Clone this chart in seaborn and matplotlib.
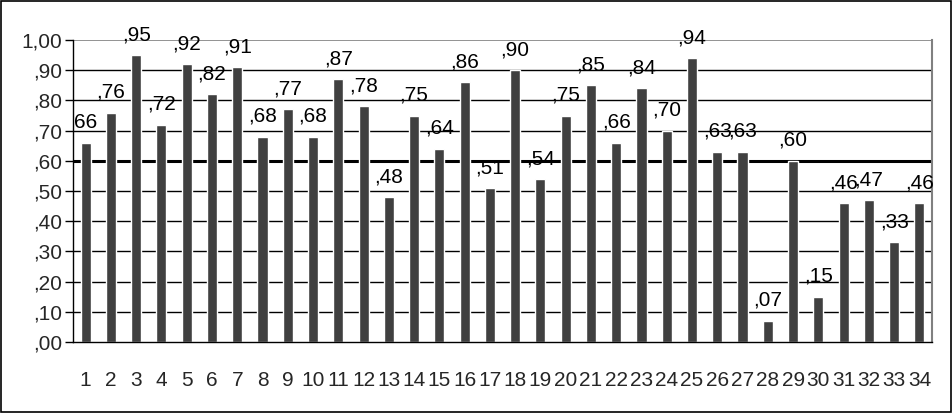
import numpy as np
import matplotlib
matplotlib.use("Agg")
import matplotlib.pyplot as plt
import pandas as pd
import seaborn as sns

# Data
items = [str(i) for i in range(1, 35)]
values = [0.66, 0.76, 0.95, 0.72, 0.92, 0.82, 0.91, 0.68, 0.77, 0.68,
          0.87, 0.78, 0.48, 0.75, 0.64, 0.86, 0.51, 0.90, 0.54, 0.75,
          0.85, 0.66, 0.84, 0.70, 0.94, 0.63, 0.63, 0.07, 0.60, 0.15,
          0.46, 0.47, 0.33, 0.46]
y_ticks = [0.0, 0.1, 0.2, 0.3, 0.4, 0.5, 0.6, 0.7, 0.8, 0.9, 1.0]
y_tick_labels = [",00", ",10", ",20", ",30", ",40", ",50", ",60", ",70", ",80", ",90", "1,00"]
threshold = 0.60

df = pd.DataFrame({"item": items, "value": values})

sns.set_theme(style="white")
plt.rcParams['font.family'] = ['Liberation Sans', 'DejaVu Sans']

fig = plt.figure(figsize=(9.53, 4.13), dpi=100)
ax = fig.add_axes([0.0766, 0.172, 0.9014, 0.731])

# grid lines behind bars
for t in y_ticks[1:-1]:
    ax.axhline(t, color="black", lw=2.2 if t == threshold else 1.0, zorder=0)
ax.axhline(1.0, color="#808080", lw=1.2, zorder=0)

sns.barplot(data=df, x="item", y="value", color="#404040", width=0.4,
            saturation=1, ax=ax, zorder=2)

# value labels
for i, v in enumerate(values):
    lab = ("%.2f" % v)[1:].replace(".", ",")
    if i == 0:
        lab = lab[1:]
    ax.text(i, v + 0.036, lab, ha="center", va="bottom", fontsize=15,
            color="black", clip_on=False, zorder=3)

ax.set_xlim(-0.5, len(items) - 0.5)
ax.set_ylim(0, 1.0)
ax.set_yticks(y_ticks)
ax.set_yticklabels(y_tick_labels, fontsize=15)
ax.set_xlabel("")
ax.set_ylabel("")
ax.tick_params(axis="x", labelsize=15, length=0, pad=21)
ax.set_xticks(np.arange(-0.5, len(items), 1.0), minor=True)
ax.tick_params(axis="x", which="minor", length=6, width=1, direction="out", color="black")
ax.tick_params(axis="y", length=6, width=1, direction="out", color="black", left=True, pad=2)

for s in ["left", "bottom"]:
    ax.spines[s].set_color("black")
    ax.spines[s].set_linewidth(1.0)
ax.spines["top"].set_visible(False)
ax.spines["right"].set_color("#808080")
ax.spines["right"].set_linewidth(1.5)

# outer frame
fig.patches.append(plt.Rectangle((0.001, 0.002), 0.997, 0.995, transform=fig.transFigure,
                                 fill=False, edgecolor="black", lw=1.2))

fig.savefig("out.png", dpi=100)
